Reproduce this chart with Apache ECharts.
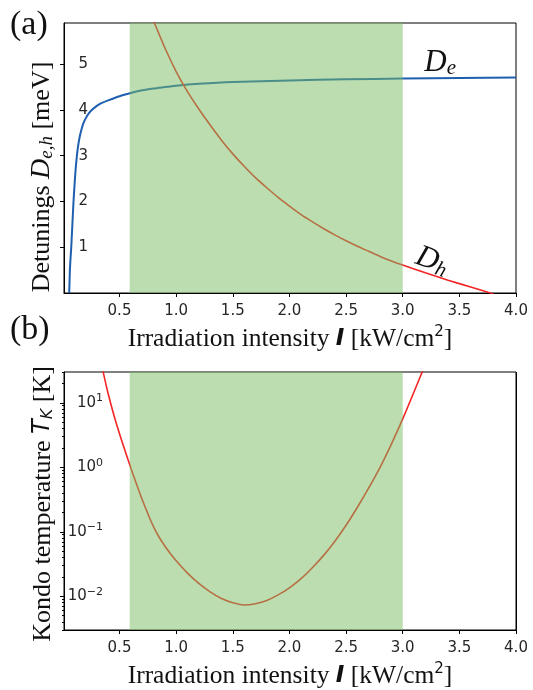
<!DOCTYPE html>
<html>
<head>
<meta charset="utf-8">
<script src="https://cdn.jsdelivr.net/npm/echarts@6/dist/echarts.min.js"></script>
<style>
  html, body { margin: 0; padding: 0; background: #fff; }
  #chart { width: 533px; height: 690px; }
</style>
</head>
<body>
<div id="chart"></div>
<script>
// ---- data ----
const xTicks = [0.5, 1.0, 1.5, 2.0, 2.5, 3.0, 3.5, 4.0];
const xMax = 4.0;
const yTicksA = [1, 2, 3, 4, 5];
const yTicksB = [0.01, 0.1, 1, 10];
const yMinorB = [0.003, 0.004, 0.005, 0.006, 0.007, 0.008, 0.009,
                 0.02, 0.03, 0.04, 0.05, 0.06, 0.07, 0.08, 0.09,
                 0.2, 0.3, 0.4, 0.5, 0.6, 0.7, 0.8, 0.9,
                 2, 3, 4, 5, 6, 7, 8, 9, 20, 30];
const band = [0.59, 3.0];

const I_De = [0.056, 0.062, 0.068, 0.074, 0.084, 0.094, 0.108, 0.116, 0.124, 0.135, 0.15, 0.165, 0.18, 0.2, 0.227, 0.26, 0.3, 0.35, 0.4, 0.5, 0.6, 0.7, 0.8, 0.9, 1.0, 1.2, 1.5, 2.0, 2.5, 3.0, 3.5, 4.0];
const De   = [0.0,   0.5,   0.77,  1.0,   1.5,   2.0,   2.55,  2.8,   3.0,   3.22,  3.43, 3.58,  3.70, 3.81, 3.92,  4.01, 4.09, 4.16, 4.21, 4.30, 4.37, 4.43, 4.47, 4.50, 4.53, 4.57, 4.61, 4.645, 4.67, 4.685, 4.70, 4.71];

const I_Dh = [0.8, 0.9, 1.0, 1.1, 1.2, 1.3, 1.4, 1.5, 1.6, 1.7, 1.8, 1.9, 2.0, 2.1, 2.2, 2.3, 2.4, 2.5, 2.6, 2.7, 2.8, 2.9, 3.0, 3.2, 3.4, 3.6, 3.8];
const Dh   = [5.95, 5.36, 4.84, 4.40, 4.02, 3.67, 3.34, 3.04, 2.77, 2.52, 2.30, 2.09, 1.90, 1.72, 1.56, 1.41, 1.27, 1.14, 1.02, 0.91, 0.80, 0.70, 0.61, 0.44, 0.28, 0.13, -0.02];

const I_TK = [0.33, 0.354, 0.4, 0.45, 0.5, 0.55, 0.6, 0.65, 0.7, 0.75, 0.8, 0.85, 0.9, 0.95, 1.0, 1.1, 1.2, 1.3, 1.4, 1.5, 1.6, 1.7, 1.8, 1.9, 2.0, 2.1, 2.2, 2.3, 2.4, 2.5, 2.6, 2.7, 2.8, 2.9, 3.0, 3.1, 3.2];
const TK   = [46.8, 30.9, 13.8, 6.46, 3.31, 1.78, 0.977, 0.550, 0.316, 0.191, 0.120, 0.0822, 0.0603, 0.0457, 0.0355, 0.0229, 0.0158, 0.0117, 0.00923, 0.00794, 0.00733, 0.00767, 0.00861, 0.0105, 0.0135, 0.0186, 0.0275, 0.0427, 0.0708, 0.126, 0.240, 0.479, 1.00, 2.29, 5.62, 14.8, 39.8];

// ---- styling ----
const serif = 'Liberation Serif';
const sans = 'DejaVu Sans';
const ink = '#000';
const labelInk = '#262626';
const green = 'rgba(119,187,97,0.5)';
const blue = '#1f5fb0';
const red = '#f52525';

const zip = (xs, ys) => xs.map((x, i) => [x, ys[i]]);

function pow10Label(v) {
  const e = Math.round(Math.log10(v));
  const s = String(e).replace('-', '\u2212');
  return '10{sup|' + s + '}';
}

function xAxisCfg(gridIndex) {
  return {
    type: 'value', gridIndex: gridIndex, min: 0.01, max: xMax,
    axisLine: { show: true, lineStyle: { color: ink, width: 1 } },
    axisTick: { show: true, length: 4, inside: false, customValues: xTicks, lineStyle: { color: ink } },
    axisLabel: { customValues: xTicks, formatter: v => v.toFixed(1), fontFamily: sans, fontSize: 15, color: labelInk, margin: 11 },
    splitLine: { show: false },
    name: 'Irradiation intensity {i|I} [kW/cm{sup|2}]',
    nameLocation: 'middle', nameGap: 32,
    nameTextStyle: {
      fontFamily: serif, fontSize: 25.5, color: '#111',
      rich: {
        i: { fontFamily: sans, fontStyle: 'italic', fontWeight: 'bold', fontSize: 23, color: '#111' },
        sup: { fontFamily: sans, fontSize: 15, color: '#111', padding: [0, 0, 13, 0] }
      }
    }
  };
}

const option = {
  animation: false,
  backgroundColor: '#fff',
  grid: [
    { left: 64, top: 23, right: 17, height: 270, show: true, borderColor: ink, borderWidth: 1, backgroundColor: 'transparent' },
    { left: 64, top: 372, right: 17, height: 261, show: true, borderColor: ink, borderWidth: 1, backgroundColor: 'transparent' }
  ],
  xAxis: [xAxisCfg(0), xAxisCfg(1)],
  yAxis: [
    {
      type: 'value', gridIndex: 0, min: 0, max: 5.9, position: 'left',
      axisLine: { show: true, lineStyle: { color: ink } },
      axisTick: { show: true, length: 4, customValues: yTicksA, lineStyle: { color: ink } },
      axisLabel: { customValues: yTicksA, fontFamily: sans, fontSize: 15, color: labelInk, margin: -24, align: 'right' },
      splitLine: { show: false },
      name: 'Detunings {it|D}{sub|e,h} [meV]',
      nameLocation: 'middle', nameGap: 7,
      nameTextStyle: {
        fontFamily: serif, fontSize: 26, color: '#111', padding: [0, 38, 0, 0],
        rich: {
          it: { fontFamily: serif, fontStyle: 'italic', fontSize: 28, color: '#111' },
          sub: { fontFamily: serif, fontStyle: 'italic', fontSize: 19, color: '#111', padding: [9, 0, 0, 0] }
        }
      }
    },
    {
      type: 'log', gridIndex: 1, min: 0.003, max: 30, logBase: 10, position: 'left',
      axisLine: { show: true, lineStyle: { color: ink } },
      axisTick: { show: true, length: 4, customValues: yTicksB, lineStyle: { color: ink } },
      axisLabel: {
        customValues: yTicksB, formatter: pow10Label, fontFamily: sans, fontSize: 15, color: labelInk,
        margin: -39, align: 'right',
        rich: { sup: { fontFamily: sans, fontSize: 11, color: labelInk, padding: [0, 0, 9, 0] } }
      },
      splitLine: { show: false },
      name: 'Kondo temperature {it|T}{sub|K} [K]',
      nameLocation: 'middle', nameGap: 7,
      nameTextStyle: {
        fontFamily: serif, fontSize: 26, color: '#111', padding: [0, 6, 0, 0],
        rich: {
          it: { fontFamily: sans, fontStyle: 'italic', fontSize: 24, color: '#111' },
          sub: { fontFamily: sans, fontStyle: 'italic', fontSize: 16, color: '#111', padding: [9, 0, 0, 0] }
        }
      }
    },
    {
      // minor ticks of the log axis, drawn on the left edge of panel (b)
      type: 'log', gridIndex: 1, min: 0.003, max: 30, logBase: 10, position: 'right', offset: -452,
      axisLine: { show: false },
      axisTick: { show: true, inside: true, length: 2, customValues: yMinorB, lineStyle: { color: ink } },
      axisLabel: { show: false },
      splitLine: { show: false }
    }
  ],
  series: [
    {
      type: 'line', xAxisIndex: 0, yAxisIndex: 0, z: 2,
      data: zip(I_De, De), showSymbol: false, smooth: 0.2,
      lineStyle: { color: blue, width: 2 },
      markPoint: {
        silent: true, symbol: 'circle', symbolSize: 0,
        data: [{ coord: [3.33, 5.03] }],
        label: {
          show: true, position: 'inside',
          formatter: '{d|D}{s|e}',
          rich: {
            d: { fontFamily: serif, fontStyle: 'italic', fontSize: 31, color: '#111' },
            s: { fontFamily: serif, fontStyle: 'italic', fontSize: 21, color: '#111', padding: [12, 0, 0, 0] }
          }
        }
      }
    },
    {
      type: 'line', xAxisIndex: 0, yAxisIndex: 0, z: 2,
      data: zip(I_Dh, Dh), showSymbol: false, smooth: 0.2,
      lineStyle: { color: red, width: 1.6 },
      markPoint: {
        silent: true, symbol: 'circle', symbolSize: 0,
        data: [{ coord: [3.26, 0.70] }],
        label: {
          show: true, position: 'inside', rotate: -20,
          formatter: '{d|D}{s|h}',
          rich: {
            d: { fontFamily: serif, fontStyle: 'italic', fontSize: 31, color: '#111' },
            s: { fontFamily: serif, fontStyle: 'italic', fontSize: 21, color: '#111', padding: [12, 0, 0, 0] }
          }
        }
      }
    },
    {
      type: 'line', xAxisIndex: 0, yAxisIndex: 0, z: 10, data: [], silent: true,
      markArea: { z: 10, silent: true, itemStyle: { color: green }, data: [[{ xAxis: band[0] }, { xAxis: band[1] }]] }
    },
    {
      type: 'line', xAxisIndex: 1, yAxisIndex: 1, z: 2,
      data: zip(I_TK, TK), showSymbol: false, smooth: 0.35,
      lineStyle: { color: red, width: 1.6 }
    },
    {
      type: 'line', xAxisIndex: 1, yAxisIndex: 1, z: 10, data: [], silent: true,
      markArea: { z: 10, silent: true, itemStyle: { color: green }, data: [[{ xAxis: band[0] }, { xAxis: band[1] }]] }
    }
  ],
  graphic: [
    { type: 'text', left: 10, top: 8, style: { text: '(a)', font: '34px "Liberation Serif"', fill: '#111' } },
    { type: 'text', left: 10, top: 313, style: { text: '(b)', font: '34px "Liberation Serif"', fill: '#111' } },
    // right frame edge of panel (b)
    { type: 'line', z: 100, silent: true, shape: { x1: 516.5, y1: 372, x2: 516.5, y2: 633 }, style: { stroke: ink, lineWidth: 1 } }
  ]
};

const chart = echarts.init(document.getElementById('chart'), null, { renderer: 'canvas' });
chart.setOption(option);
</script>
</body>
</html>
